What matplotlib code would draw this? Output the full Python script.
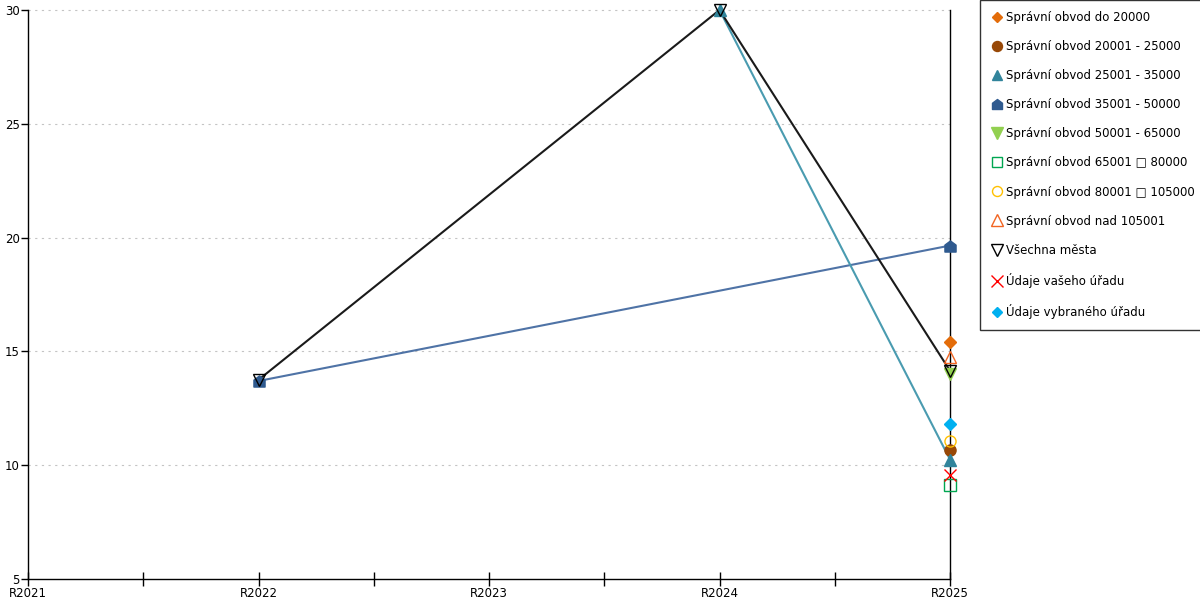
import numpy as np
import matplotlib
matplotlib.use("Agg")
import matplotlib.pyplot as plt
from matplotlib.path import Path

years = ["R2021", "R2022", "R2023", "R2024", "R2025"]
nan = np.nan

labels = [
    "Správní obvod do 20000",
    "Správní obvod 20001 - 25000",
    "Správní obvod 25001 - 35000",
    "Správní obvod 35001 - 50000",
    "Správní obvod 50001 - 65000",
    "Správní obvod 65001 \u25a1 80000",
    "Správní obvod 80001 \u25a1 105000",
    "Správní obvod nad 105001",
    "Všechna města",
    "Údaje vašeho úřadu",
    "Údaje vybraného úřadu",
]

do_20000 = [nan, nan, nan, nan, 15.4]
s_20001_25000 = [nan, nan, nan, nan, 10.65]
s_25001_35000 = [nan, nan, nan, 30.0, 10.25]
s_35001_50000 = [nan, 13.7, nan, nan, 19.65]
s_50001_65000 = [nan, nan, nan, nan, 14.0]
s_65001_80000 = [nan, nan, nan, nan, 9.15]
s_80001_105000 = [nan, nan, nan, nan, 11.05]
nad_105001 = [nan, nan, nan, nan, 14.75]
vsechna_mesta = [nan, 13.75, nan, 30.0, 14.15]
vaseho_uradu = [nan, nan, nan, nan, 9.55]
vybraneho_uradu = [nan, nan, nan, nan, 11.8]

house = Path([(-1, -1), (1, -1), (1, 0.25), (0, 1), (-1, 0.25), (-1, -1)],
             [Path.MOVETO, Path.LINETO, Path.LINETO, Path.LINETO, Path.LINETO, Path.CLOSEPOLY])

styles = [
    dict(data=do_20000, marker="D", ms=6, mfc="#e36c0a", mec="#e36c0a", color="#e36c0a"),
    dict(data=s_20001_25000, marker="o", ms=8, mfc="#984807", mec="#984807", color="#984807"),
    dict(data=s_25001_35000, marker="^", ms=8, mfc="#31849b", mec="#31849b", color="#4a9bb0"),
    dict(data=s_35001_50000, marker=house, ms=8, mfc="#2f5a8f", mec="#2f5a8f", color="#4f73a6"),
    dict(data=s_50001_65000, marker="v", ms=9, mfc="#92d050", mec="#92d050", color="#92d050"),
    dict(data=s_65001_80000, marker="s", ms=8, mfc="none", mec="#00a651", color="#00a651"),
    dict(data=s_80001_105000, marker="o", ms=8, mfc="none", mec="#ffc000", color="#ffc000"),
    dict(data=nad_105001, marker="^", ms=9, mfc="none", mec="#f26522", color="#f26522"),
    dict(data=vsechna_mesta, marker="v", ms=9, mfc="none", mec="#000000", color="#1a1a1a"),
    dict(data=vaseho_uradu, marker="x", ms=9, mfc="#ff0000", mec="#ff0000", color="#ff0000"),
    dict(data=vybraneho_uradu, marker="D", ms=6, mfc="#00b0f0", mec="#00b0f0", color="#00b0f0"),
]

plt.rcParams["font.family"] = ["DejaVu Sans"]
fig = plt.figure(figsize=(12, 6), dpi=100)
ax = fig.add_axes([28 / 1200, 1 - 579 / 600, (950 - 28) / 1200, (579 - 10) / 600])

x = np.arange(len(years))
zorders = [3, 3, 4, 3, 3, 3, 3, 3, 5, 3, 3]
handles = []
for st, lab, z in zip(styles, labels, zorders):
    y = np.array(st["data"], dtype=float)
    m = ~np.isnan(y)
    ax.plot(x[m], y[m], color=st["color"], lw=1.5, zorder=z)
    h, = ax.plot(x[m], y[m], linestyle="none", marker=st["marker"], ms=st["ms"],
                 mfc=st["mfc"], mec=st["mec"], mew=1.0, zorder=z + 5, label=lab)
    handles.append(h)

ax.set_xlim(0, 4)
ax.set_ylim(5, 30)
ax.set_xticks(x)
ax.set_xticklabels(years)
ax.set_xticks([0.5, 1.5, 2.5, 3.5], minor=True)
ax.set_yticks([5, 10, 15, 20, 25, 30])
ax.tick_params(axis="x", which="both", direction="inout", length=10, width=1, labelsize=8.5, pad=1, colors="black")
ax.tick_params(axis="y", direction="out", length=5, width=1, labelsize=8.5, pad=1)
for yv in [10, 15, 20, 25, 30]:
    ax.axhline(yv, color="#c4c4c4", lw=0.8, ls=(0, (2, 4)), zorder=1)
for s in ["left", "bottom", "right"]:
    ax.spines[s].set_color("black")
    ax.spines[s].set_linewidth(1)
ax.spines["top"].set_visible(False)
ax.patch.set_alpha(0)
for ln in ax.lines:
    ln.set_clip_on(False)

leg = fig.legend(handles=handles, loc="upper left", bbox_to_anchor=(980 / 1200, 1.0),
                 frameon=True, fontsize=8.5, labelspacing=1.36, handlelength=0.9,
                 handletextpad=0.35, borderpad=0.95, borderaxespad=0, fancybox=False,
                 markerscale=0.9)
leg.get_frame().set_edgecolor("black")
leg.get_frame().set_linewidth(1)

fig.savefig("out.png", dpi=100)
